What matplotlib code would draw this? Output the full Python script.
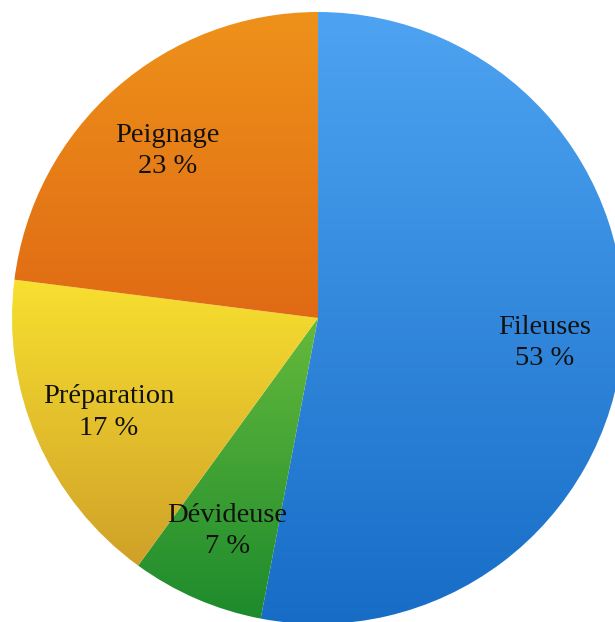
import numpy as np
import matplotlib.pyplot as plt
from matplotlib.colors import LinearSegmentedColormap

# Share of each department
labels = ['Fileuses', 'Dévideuse', 'Préparation', 'Peignage']
shares = [53, 7, 17, 23]

# Top / bottom shade of each wedge (vertical gradient)
top_colors = ['#4ea4f2', '#66ba3c', '#f8e030', '#ee921a']
bottom_colors = ['#176cc6', '#1c8a2c', '#cfa028', '#e06a14']

W, H = 615, 622
fig = plt.figure(figsize=(W / 100, H / 100), dpi=100)
ax = fig.add_axes([0, 0, 1, 1])

cx, cy, r = 318, H - 318, 306
wedges, _ = ax.pie(shares, startangle=90, counterclock=False,
                   center=(cx, cy), radius=r,
                   wedgeprops=dict(linewidth=0))

for w, c0, c1 in zip(wedges, top_colors, bottom_colors):
    x0, y0, x1, y1 = w.get_path().get_extents().extents
    x0, x1 = x0 - 2, x1 + 2
    y0, y1 = y0 - 2, y1 + 2
    cmap = LinearSegmentedColormap.from_list('g', [c1, c0])
    grad = np.linspace(0, 1, 256).reshape(-1, 1)
    w.set_facecolor('none')
    im = ax.imshow(grad, cmap=cmap, origin='lower', aspect='auto',
                   extent=(x0, x1, y0, y1), interpolation='bilinear', zorder=1)
    im.set_clip_path(w)

# Labels in the middle of each wedge (nudged a little below the mid-radius)
for w, name, val in zip(wedges, labels, shares):
    ang = np.deg2rad((w.theta1 + w.theta2) / 2)
    tx = cx + 0.745 * r * np.cos(ang)
    ty = cy + 0.745 * r * np.sin(ang) - 4
    ax.text(tx, ty, f'{name}\n{val} %', ha='center', va='center',
            fontsize=20.5, family='Liberation Serif', color='#111111',
            linespacing=1.32, zorder=3)

ax.set_xlim(0, W)
ax.set_ylim(0, H)
ax.set_aspect('auto')
ax.axis('off')

plt.savefig('out.png', dpi=100)
